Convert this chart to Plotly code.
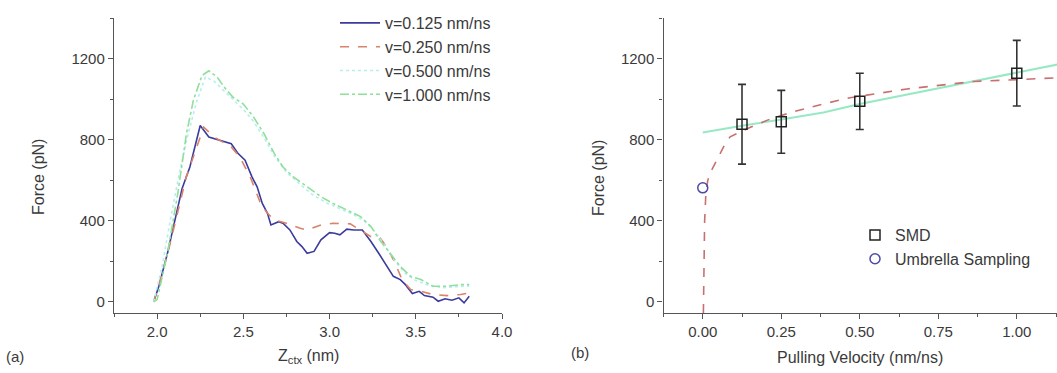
import plotly.graph_objects as go

# ---------------- Panel (a) data: force vs Z_ctx ----------------
z_v0125 = [1.98, 2.01, 2.06, 2.11, 2.145, 2.19, 2.25, 2.30, 2.37, 2.43, 2.47, 2.51, 2.55, 2.58, 2.61, 2.64,
           2.66, 2.705, 2.73, 2.77, 2.81, 2.84, 2.87, 2.91, 2.95, 3.00, 3.03, 3.06, 3.10, 3.14, 3.19, 3.24,
           3.285, 3.33, 3.37, 3.41, 3.44, 3.48, 3.52, 3.55, 3.60, 3.63, 3.67, 3.71, 3.75, 3.78, 3.81]
f_v0125 = [0, 77, 240, 420, 560, 666, 871, 814, 797, 781, 732, 699, 617, 568, 486, 437,
           380, 396, 388, 355, 298, 273, 240, 249, 306, 342, 339, 331, 359, 355, 355, 298,
           240, 183, 126, 110, 85, 41, 52, 31, 23, 3, 15, 8, 20, -5, 28]

z_v0250 = [1.98, 2.02, 2.07, 2.12, 2.17, 2.22, 2.27, 2.33, 2.43, 2.48, 2.54, 2.60, 2.64, 2.68, 2.75, 2.83,
           2.87, 2.95, 3.02, 3.12, 3.18, 3.24, 3.29, 3.33, 3.38, 3.42, 3.47, 3.53, 3.60, 3.68, 3.76, 3.81]
f_v0250 = [0, 110, 270, 450, 620, 740, 863, 814, 765, 715, 617, 486, 437, 404, 388, 363,
           355, 380, 388, 385, 355, 322, 319, 273, 192, 110, 61, 52, 36, 31, 36, 44]

z_v0500 = [1.98, 2.03, 2.08, 2.13, 2.18, 2.23, 2.28, 2.33, 2.39, 2.45, 2.50, 2.56, 2.62, 2.68, 2.75, 2.83,
           2.90, 2.98, 3.06, 3.14, 3.20, 3.26, 3.32, 3.38, 3.44, 3.50, 3.58, 3.66, 3.74, 3.81]
f_v0500 = [0, 180, 420, 640, 830, 990, 1110, 1090, 1040, 990, 950, 890, 810, 720, 640, 580,
           530, 490, 460, 430, 400, 350, 280, 200, 140, 105, 80, 70, 75, 78]

z_v1000 = [1.98, 2.00, 2.06, 2.12, 2.17, 2.21, 2.26, 2.30, 2.35, 2.39, 2.44, 2.50, 2.56, 2.62, 2.68, 2.73,
           2.79, 2.87, 2.95, 3.02, 3.10, 3.18, 3.24, 3.29, 3.35, 3.41, 3.47, 3.53, 3.60, 3.68, 3.76, 3.81]
f_v1000 = [0, 11, 240, 535, 830, 994, 1117, 1141, 1108, 1059, 1010, 977, 912, 830, 732, 666,
           617, 568, 519, 486, 453, 421, 372, 306, 241, 175, 126, 110, 77, 77, 85, 85]

# ---------------- Panel (b) data: force vs pulling velocity ----------------
v_smd = [0.125, 0.25, 0.50, 1.00]
f_smd = [877, 889, 990, 1129]
err_smd = [197, 155, 139, 162]

v_umb = [0.0]
f_umb = [563]

v_fit_red = [0.002, 0.004, 0.006, 0.010, 0.016, 0.025, 0.045, 0.068, 0.087, 0.15, 0.214, 0.289, 0.384,
             0.469, 0.65, 0.862, 1.13]
f_fit_red = [-55, 150, 400, 540, 600, 640, 703, 770, 815, 861, 902, 939, 977, 1008, 1051, 1088, 1106]

v_fit_green = [0.0, 0.125, 0.25, 0.384, 0.5, 0.75, 1.0, 1.13]
f_fit_green = [836, 870, 900, 935, 977, 1055, 1135, 1172]

y_ticks = [0, 400, 800, 1200]

FONT = "Liberation Sans, Arial, sans-serif"
TXT = "#3a3a3a"
AX = "#555555"

fig = go.Figure()

# panel (a)
fig.add_trace(go.Scatter(x=z_v0125, y=f_v0125, mode="lines", name="v=0.125 nm/ns",
                         line=dict(color="#3b3b9e", width=1.6), xaxis="x", yaxis="y", legend="legend"))
fig.add_trace(go.Scatter(x=z_v0250, y=f_v0250, mode="lines", name="v=0.250 nm/ns",
                         line=dict(color="#d8836a", width=1.6, dash="dash"), xaxis="x", yaxis="y", legend="legend"))
fig.add_trace(go.Scatter(x=z_v0500, y=f_v0500, mode="lines", name="v=0.500 nm/ns",
                         line=dict(color="#b6eef0", width=1.6, dash="dot"), xaxis="x", yaxis="y", legend="legend"))
fig.add_trace(go.Scatter(x=z_v1000, y=f_v1000, mode="lines", name="v=1.000 nm/ns",
                         line=dict(color="#8ee09a", width=1.6, dash="dashdot"), xaxis="x", yaxis="y", legend="legend"))

# panel (b)
fig.add_trace(go.Scatter(x=v_fit_green, y=f_fit_green, mode="lines", showlegend=False,
                         line=dict(color="#98e8c4", width=2), xaxis="x2", yaxis="y2"))
fig.add_trace(go.Scatter(x=v_fit_red, y=f_fit_red, mode="lines", showlegend=False,
                         line=dict(color="#c87070", width=1.6, dash="dash"), xaxis="x2", yaxis="y2"))
fig.add_trace(go.Scatter(x=v_smd, y=f_smd, mode="markers", name="SMD",
                         marker=dict(symbol="square-open", size=10, color="#222222", line=dict(width=1.5)),
                         error_y=dict(type="data", array=err_smd, color="#333333", thickness=1.6, width=4),
                         xaxis="x2", yaxis="y2", legend="legend2"))
fig.add_trace(go.Scatter(x=v_umb, y=f_umb, mode="markers", name="Umbrella Sampling",
                         marker=dict(symbol="circle-open", size=10, color="#4a4aa8", line=dict(width=1.5)),
                         xaxis="x2", yaxis="y2", legend="legend2"))

W, H = 1057, 373
def px(x):
    return x / W
def py(y):
    return 1 - y / H

axis_common = dict(showline=True, linecolor=AX, linewidth=1.4, ticks="outside", ticklen=5, tickwidth=1.3,
                   tickcolor=AX, showgrid=False, zeroline=False, automargin=False,
                   tickfont=dict(family=FONT, size=15, color=TXT))

fig.update_layout(
    width=W, height=H,
    margin=dict(l=0, r=0, t=0, b=0, pad=0, autoexpand=False),
    paper_bgcolor="white", plot_bgcolor="white",
    font=dict(family=FONT, color=TXT),
    xaxis=dict(domain=[px(114), px(502)], range=[1.75, 4.0], anchor="y", tickmode="array",
               tickvals=[2.0, 2.5, 3.0, 3.5, 4.0], ticktext=["2.0", "2.5", "3.0", "3.5", "4.0"],
               minor=dict(ticks="outside", ticklen=3, tickcolor=AX, dtick=0.25, tick0=1.75, showgrid=False),
               **axis_common),
    yaxis=dict(domain=[py(313), py(18.3)], range=[-55, 1400], anchor="x", tickmode="array",
               tickvals=y_ticks, minor=dict(ticks="outside", ticklen=3, tickcolor=AX, dtick=200, tick0=0,
                                            showgrid=False),
               **axis_common),
    xaxis2=dict(domain=[px(663.5), 1.0], range=[-0.125, 1.128], anchor="y2", tickmode="array",
                tickvals=[0.0, 0.25, 0.5, 0.75, 1.0], ticktext=["0.00", "0.25", "0.50", "0.75", "1.00"],
                minor=dict(ticks="outside", ticklen=3, tickcolor=AX, dtick=0.125, tick0=0, showgrid=False),
                **axis_common),
    yaxis2=dict(domain=[py(313), py(18.3)], range=[-55, 1400], anchor="x2", tickmode="array",
                tickvals=y_ticks, minor=dict(ticks="outside", ticklen=3, tickcolor=AX, dtick=200, tick0=0,
                                             showgrid=False),
                **axis_common),
    legend=dict(x=px(335), y=py(6), xanchor="left", yanchor="top", bgcolor="rgba(0,0,0,0)",
                font=dict(family=FONT, size=16, color=TXT), tracegroupgap=0, itemwidth=40),
    legend2=dict(x=px(855), y=py(218), xanchor="left", yanchor="top", bgcolor="rgba(0,0,0,0)",
                 font=dict(family=FONT, size=16, color=TXT), tracegroupgap=0),
    showlegend=True,
)

ann = [
    dict(text="Force (pN)", x=px(38), y=py(177), textangle=-90, font=dict(size=16)),
    dict(text="Force (pN)", x=px(598), y=py(178), textangle=-90, font=dict(size=16)),
    dict(text="Z<sub>ctx</sub> (nm)", x=px(308), y=py(356), font=dict(size=16)),
    dict(text="Pulling Velocity (nm/ns)", x=px(860), y=py(357), font=dict(size=16)),
    dict(text="(a)", x=px(15), y=py(356), font=dict(size=15)),
    dict(text="(b)", x=px(580), y=py(352), font=dict(size=15)),
]
for a in ann:
    a.update(xref="paper", yref="paper", showarrow=False, xanchor="center", yanchor="middle")
    a["font"].update(family=FONT, color=TXT)
fig.update_layout(annotations=ann)

fig.write_html("out.html", config={"displayModeBar": False},
               post_script="document.body.style.margin='0';document.body.style.overflow='hidden';")
